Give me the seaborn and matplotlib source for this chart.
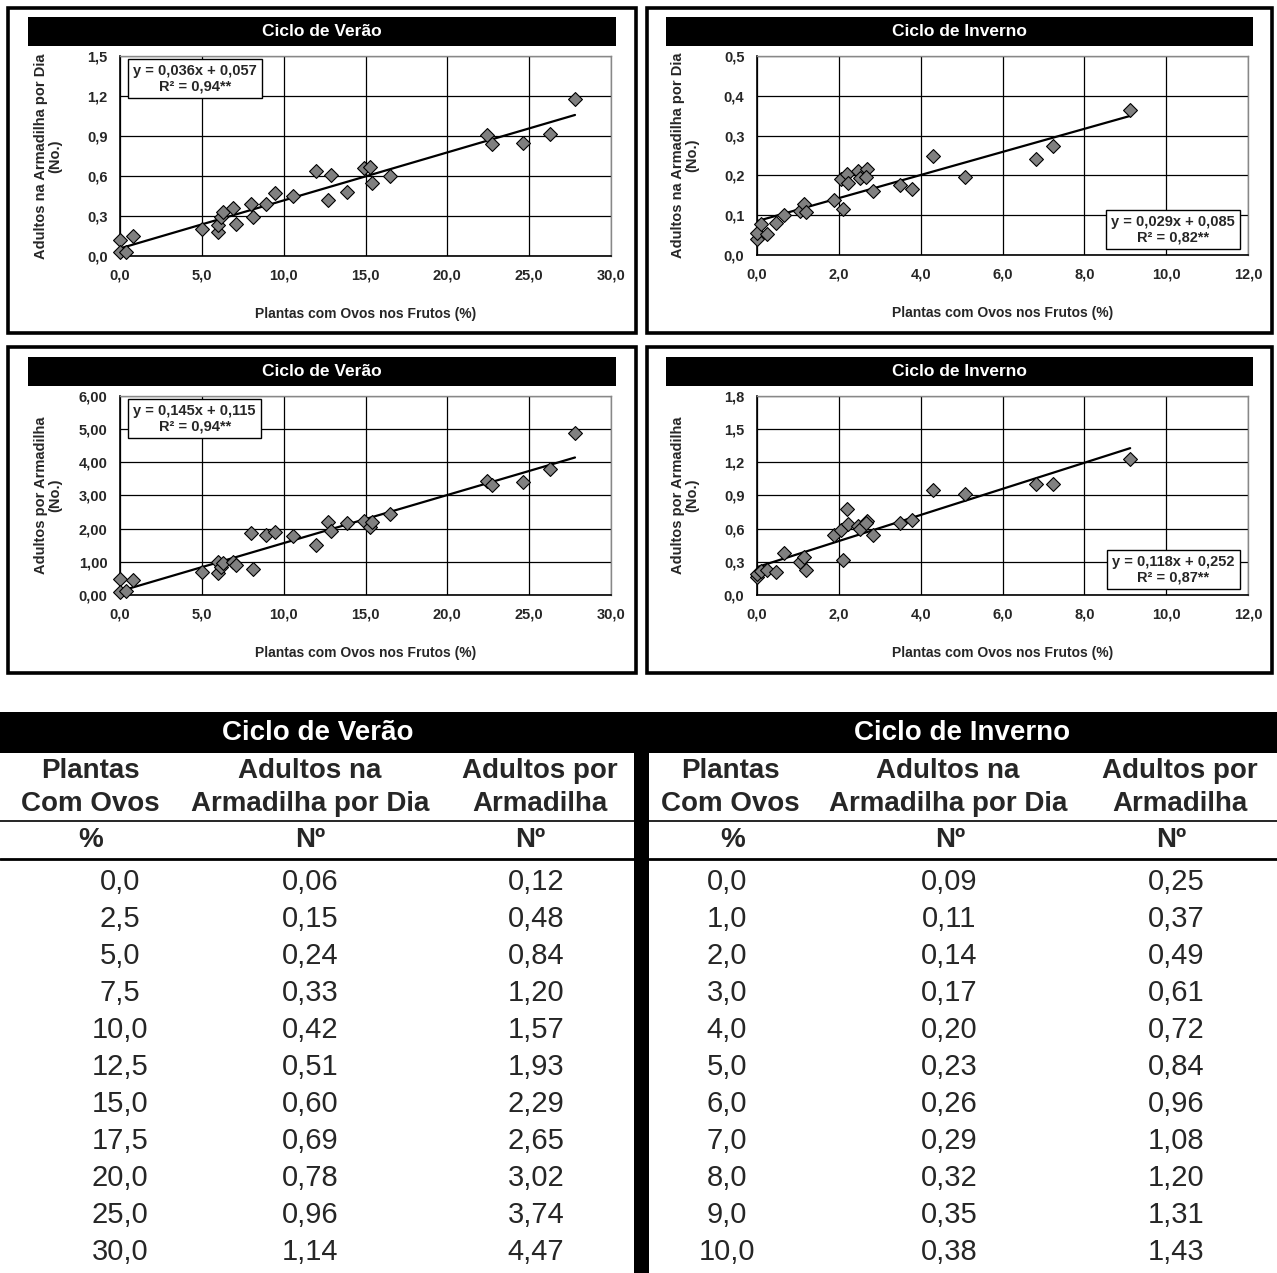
import numpy as np
import pandas as pd
import matplotlib
matplotlib.use("Agg")
import matplotlib.pyplot as plt
from matplotlib.patches import Rectangle
from matplotlib.ticker import FuncFormatter, MultipleLocator
import seaborn as sns

# Scatter data
summer_x = [0.0, 0.0, 0.35, 0.8, 5.0, 6.0, 6.0, 6.2, 6.3, 6.9, 7.1, 8.0, 8.1, 8.9, 9.5,
            10.6, 12.0, 12.7, 12.9, 13.9, 14.9, 15.3, 15.4, 16.5, 22.4, 22.7, 24.6, 26.3, 27.8]
summer_day = [0.12, 0.03, 0.03, 0.15, 0.20, 0.18, 0.23, 0.29, 0.33, 0.36, 0.24, 0.39, 0.29, 0.39, 0.475,
              0.45, 0.635, 0.42, 0.605, 0.48, 0.66, 0.67, 0.55, 0.60, 0.905, 0.84, 0.85, 0.915, 1.18]
summer_trap = [0.47, 0.10, 0.13, 0.45, 0.68, 0.65, 1.0, 0.85, 0.97, 1.0, 0.9, 1.86, 0.79, 1.81, 1.9,
               1.78, 1.52, 2.2, 1.93, 2.16, 2.22, 2.04, 2.2, 2.45, 3.43, 3.31, 3.42, 3.79, 4.89]

winter_x = [0.0, 0.0, 0.1, 0.24, 0.47, 0.65, 1.05, 1.15, 1.2, 1.88, 2.09, 2.06, 2.2, 2.22,
            2.48, 2.51, 2.69, 2.67, 2.83, 3.5, 3.79, 4.29, 5.09, 6.81, 7.24, 9.12]
winter_day = [0.039, 0.056, 0.077, 0.054, 0.081, 0.10, 0.11, 0.128, 0.109, 0.138, 0.116, 0.19, 0.204, 0.18,
              0.211, 0.194, 0.215, 0.197, 0.162, 0.176, 0.165, 0.249, 0.197, 0.242, 0.274, 0.364]
winter_trap = [0.16, 0.19, 0.22, 0.23, 0.21, 0.38, 0.295, 0.34, 0.23, 0.54, 0.32, 0.59, 0.78, 0.64,
               0.62, 0.60, 0.67, 0.65, 0.54, 0.65, 0.68, 0.95, 0.91, 1.0, 1.0, 1.23]

# regression coefficients as printed on the chart
coef = {
    "sd": (0.036, 0.057, "y = 0,036x + 0,057\nR² = 0,94**"),
    "wd": (0.029, 0.085, "y = 0,029x + 0,085\nR² = 0,82**"),
    "st": (0.145, 0.115, "y = 0,145x + 0,115\nR² = 0,94**"),
    "wt": (0.118, 0.252, "y = 0,118x + 0,252\nR² = 0,87**"),
}

# Table data
tab_summer_pct = [0.0, 2.5, 5.0, 7.5, 10.0, 12.5, 15.0, 17.5, 20.0, 25.0, 30.0]
tab_summer_day = [0.06, 0.15, 0.24, 0.33, 0.42, 0.51, 0.60, 0.69, 0.78, 0.96, 1.14]
tab_summer_trap = [0.12, 0.48, 0.84, 1.20, 1.57, 1.93, 2.29, 2.65, 3.02, 3.74, 4.47]
tab_winter_pct = [0.0, 1.0, 2.0, 3.0, 4.0, 5.0, 6.0, 7.0, 8.0, 9.0, 10.0]
tab_winter_day = [0.09, 0.11, 0.14, 0.17, 0.20, 0.23, 0.26, 0.29, 0.32, 0.35, 0.38]
tab_winter_trap = [0.25, 0.37, 0.49, 0.61, 0.72, 0.84, 0.96, 1.08, 1.20, 1.31, 1.43]

sns.set_style("white")
plt.rcParams['font.family'] = ['Liberation Sans', 'DejaVu Sans']

W, H = 1277, 1273
fig = plt.figure(figsize=(W / 100, H / 100), dpi=100)
fig.patch.set_facecolor("white")


def fr(x0, y0, x1, y1):
    return [x0 / W, 1 - y1 / H, (x1 - x0) / W, (y1 - y0) / H]


def fig_rect(x0, y0, x1, y1, **kw):
    fig.patches.append(Rectangle((x0 / W, 1 - y1 / H), (x1 - x0) / W, (y1 - y0) / H,
                                 transform=fig.transFigure, **kw))


def comma(dec):
    return FuncFormatter(lambda v, p: f"{v:.{dec}f}".replace(".", ","))


panels = [
    # box, bar, axes, title, x, y, key, xmax, xstep, ymax, ystep, ydec, ylabel, eq pos
    ((8, 8, 636, 333), (28, 17, 616, 46), (120, 56, 611, 256), "Ciclo de Verão",
     summer_x, summer_day, "sd", 30, 5, 1.5, 0.3, 1, "Adultos na Armadilha por Dia\n(No.)", "tl"),
    ((647, 8, 1272, 333), (666, 17, 1253, 46), (757, 56, 1248, 255), "Ciclo de Inverno",
     winter_x, winter_day, "wd", 12, 2, 0.5, 0.1, 1, "Adultos na Armadilha por Dia\n(No.)", "br"),
    ((8, 347, 636, 673), (28, 357, 616, 386), (120, 396, 611, 595), "Ciclo de Verão",
     summer_x, summer_trap, "st", 30, 5, 6.0, 1.0, 2, "Adultos por Armadilha\n(No.)", "tl"),
    ((647, 347, 1272, 673), (666, 357, 1253, 386), (757, 396, 1248, 595), "Ciclo de Inverno",
     winter_x, winter_trap, "wt", 12, 2, 1.8, 0.3, 1, "Adultos por Armadilha\n(No.)", "br"),
]

for box, bar, axr, title, xs, ys, key, xmax, xstep, ymax, ystep, ydec, ylab, eqpos in panels:
    fig_rect(*box, fill=False, edgecolor="black", linewidth=2.6, zorder=0)
    fig_rect(*bar, facecolor="black", edgecolor="none", zorder=0)
    fig.text((bar[0] + bar[2]) / 2 / W, 1 - (bar[1] + bar[3]) / 2 / H, title, color="white",
             fontsize=12.5, fontweight="bold", ha="center", va="center")

    ax = fig.add_axes(fr(*axr))
    df = pd.DataFrame({"x": xs, "y": ys})
    slope, icpt, eq = coef[key]
    lx = np.array([min(xs), max(xs)])
    ax.plot(lx, slope * lx + icpt, color="black", linewidth=1.6, zorder=3)
    sns.scatterplot(data=df, x="x", y="y", ax=ax, marker="D", s=50, color="#808080",
                    edgecolor="black", linewidth=0.8, zorder=4, clip_on=False)

    ax.set_xlim(0, xmax)
    ax.set_ylim(0, ymax)
    ax.xaxis.set_major_locator(MultipleLocator(xstep))
    ax.yaxis.set_major_locator(MultipleLocator(ystep))
    ax.xaxis.set_major_formatter(comma(1))
    ax.yaxis.set_major_formatter(comma(ydec))
    ax.grid(True, color="black", linewidth=0.9)
    ax.set_axisbelow(True)
    for s in ["left", "bottom"]:
        ax.spines[s].set_color("black")
        ax.spines[s].set_linewidth(1.2)
    for s in ["top", "right"]:
        ax.spines[s].set_color("#888888")
        ax.spines[s].set_linewidth(1.0)
    ax.tick_params(axis="both", direction="out", length=4, width=1, color="black",
                   labelsize=10.5, pad=5)
    ax.tick_params(axis="x", pad=5)
    for lab in ax.get_xticklabels() + ax.get_yticklabels():
        lab.set_fontweight("bold")
    ax.set_xlabel("Plantas com Ovos nos Frutos (%)", fontsize=10, fontweight="bold")
    ax.set_ylabel(ylab, fontsize=10.5, fontweight="bold", linespacing=1.0)
    ax.xaxis.set_label_coords(0.5, -0.255)
    ax.yaxis.set_label_coords(-0.118, 0.5)

    bbox = dict(boxstyle="square,pad=0.35", facecolor="white", edgecolor="black", linewidth=1)
    if eqpos == "tl":
        ax.text(0.152, 0.96, eq, transform=ax.transAxes, ha="center", va="top",
                multialignment="center", fontsize=10.5, fontweight="bold", bbox=bbox,
                linespacing=1.1, zorder=6)
    else:
        ax.text(0.848, 0.055, eq, transform=ax.transAxes, ha="center", va="bottom",
                multialignment="center", fontsize=10.5, fontweight="bold", bbox=bbox,
                linespacing=1.1, zorder=6)

# ---- Table ----
tax = fig.add_axes(fr(0, 700, W, H))
tax.set_xlim(0, W)
tax.set_ylim(H, 700)
tax.axis("off")

tax.add_patch(Rectangle((0, 712), W, 41, facecolor="black", edgecolor="none"))
tax.add_patch(Rectangle((634, 753), 15, H - 753, facecolor="black", edgecolor="none"))
for x0, x1 in [(0, 634), (649, W)]:
    tax.plot([x0, x1], [821, 821], color="black", linewidth=1.2)
    tax.plot([x0, x1], [859, 859], color="black", linewidth=2.0)

fs = 20
tax.text(318, 733, "Ciclo de Verão", color="white", fontsize=fs, fontweight="bold",
         ha="center", va="center")
tax.text(962, 733, "Ciclo de Inverno", color="white", fontsize=fs, fontweight="bold",
         ha="center", va="center")

headers = [("Plantas", "Com Ovos", "%"), ("Adultos na", "Armadilha por Dia", "Nº"),
           ("Adultos por", "Armadilha", "Nº")]
tables = [
    ([90, 310, 540], [91, 310, 530], [120, 310, 536],
     [tab_summer_pct, tab_summer_day, tab_summer_trap], [1, 2, 2]),
    ([730, 948, 1180], [733, 950, 1171], [727, 949, 1176],
     [tab_winter_pct, tab_winter_day, tab_winter_trap], [1, 2, 2]),
]
for hx, ux, dx, cols, decs in tables:
    for (h1, h2, u), xh, xu in zip(headers, hx, ux):
        tax.text(xh, 771, h1, fontsize=fs, fontweight="bold", ha="center", va="center")
        tax.text(xh, 804, h2, fontsize=fs, fontweight="bold", ha="center", va="center")
        tax.text(xu, 840, u, fontsize=fs, fontweight="bold", ha="center", va="center")
    for vals, xd, dec in zip(cols, dx, decs):
        for i, v in enumerate(vals):
            tax.text(xd, 882 + i * 37, f"{v:.{dec}f}".replace(".", ","), fontsize=21,
                     ha="center", va="center")

fig.savefig("out.png", dpi=100, facecolor="white")
